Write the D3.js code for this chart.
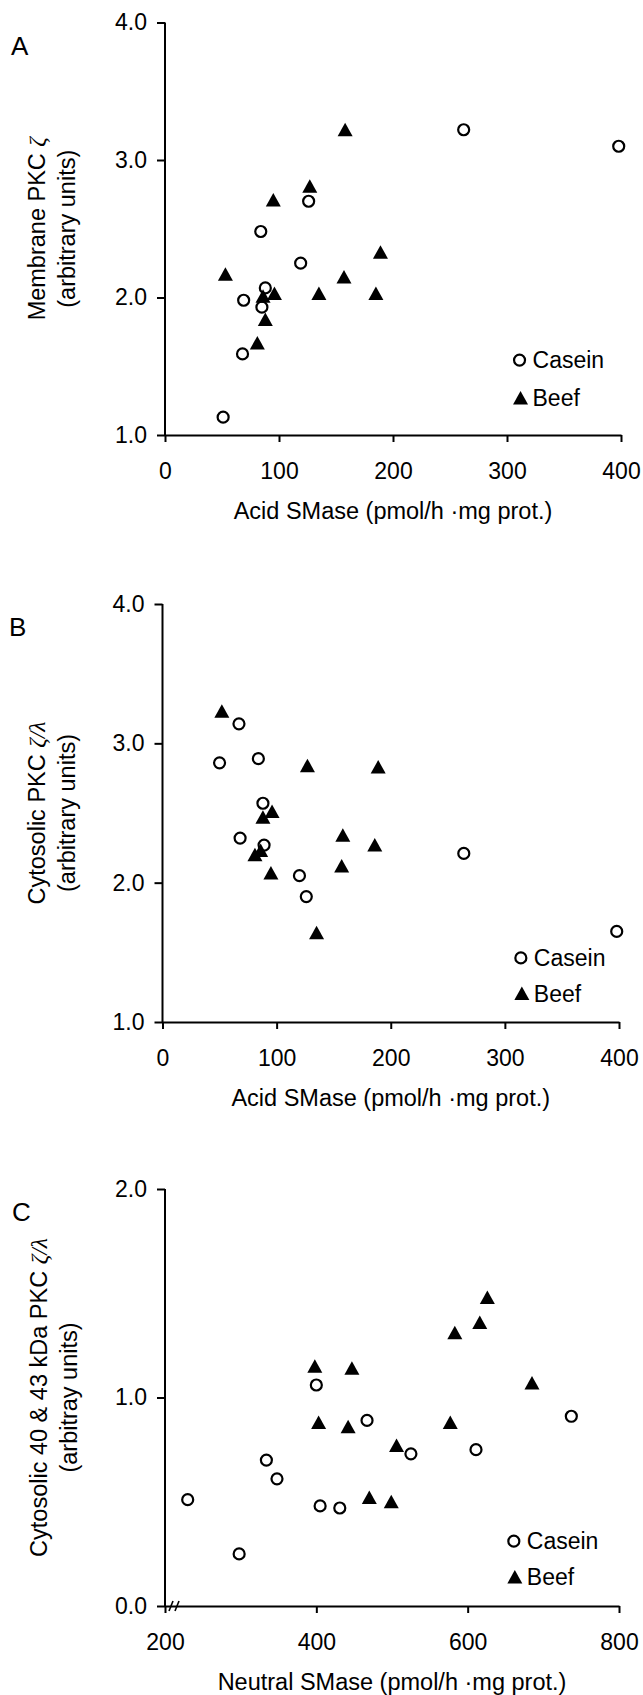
<!DOCTYPE html>
<html><head><meta charset="utf-8">
<script src="https://cdn.jsdelivr.net/npm/d3@7"></script>
<style>
body{margin:0;background:#fff}
svg{display:block}
text{font-family:"Liberation Sans",Arial,Helvetica,sans-serif;fill:#000}
.greek{font-family:"Liberation Serif","DejaVu Serif",serif;font-style:italic}
</style>
</head><body>
<svg id="chart" width="643" height="1695"></svg>
<script>
// ---------- DATA ----------
// Panel A: Acid SMase vs Membrane PKC zeta
const aCaseinX = [51, 68, 69, 85, 88, 84, 119, 126, 262, 398];
const aCaseinY = [1.13, 1.59, 1.98, 1.93, 2.07, 2.48, 2.25, 2.70, 3.22, 3.10];
const aBeefX = [53, 81, 88, 86, 96, 95, 127, 135, 158, 157, 185, 189];
const aBeefY = [2.17, 1.67, 1.84, 2.01, 2.03, 2.71, 2.81, 2.03, 3.22, 2.15, 2.03, 2.33];
// Panel B: Acid SMase vs Cytosolic PKC zeta/lambda
const bCaseinX = [50, 67, 84, 88, 68, 89, 120, 126, 264, 398];
const bCaseinY = [2.86, 3.14, 2.89, 2.57, 2.32, 2.27, 2.05, 1.90, 2.21, 1.65];
const bBeefX = [52, 127, 189, 88, 96, 158, 186, 81, 86, 95, 157, 135];
const bBeefY = [3.23, 2.84, 2.83, 2.47, 2.51, 2.34, 2.27, 2.20, 2.23, 2.07, 2.12, 1.64];
// Panel C: Neutral SMase vs Cytosolic 40 & 43 kDa PKC zeta/lambda
const cCaseinX = [230, 298, 334, 348, 400, 405, 431, 467, 525, 611, 737];
const cCaseinY = [0.51, 0.25, 0.70, 0.61, 1.06, 0.48, 0.47, 0.89, 0.73, 0.75, 0.91];
const cBeefX = [398, 447, 403, 442, 506, 470, 499, 577, 583, 616, 626, 685];
const cBeefY = [1.15, 1.14, 0.88, 0.86, 0.77, 0.52, 0.50, 0.88, 1.31, 1.36, 1.48, 1.07];

const acidTicks = [0, 100, 200, 300, 400];
const neutralTicks = [200, 400, 600, 800];
const pkcTicksAB = [1, 2, 3, 4];
const pkcTicksC = [0, 1, 2];
const seriesNames = ["Casein", "Beef"];

// ---------- DRAW ----------
const svg = d3.select("#chart");
const FS = 23;

function tri(g, cx, cy) {
  g.append("path")
    .attr("d", `M${cx},${cy - 7} L${cx + 7.5},${cy + 6.5} L${cx - 7.5},${cy + 6.5} Z`)
    .attr("fill", "#000");
}
function circ(g, cx, cy) {
  g.append("circle").attr("cx", cx).attr("cy", cy).attr("r", 5.5)
    .attr("fill", "#fff").attr("stroke", "#000").attr("stroke-width", 2.2);
}

function panel(o) {
  const g = svg.append("g");
  const x = d3.scaleLinear().domain(o.xDomain).range(o.xRange);
  const y = d3.scaleLinear().domain(o.yDomain).range(o.yRange);
  const y0 = o.yRange[0];
  const x0 = o.xRange[0];

  const xa = g.append("g").attr("transform", `translate(0,${y0})`)
    .call(d3.axisBottom(x).tickValues(o.xTicks).tickFormat(d3.format("d"))
      .tickSize(7).tickSizeOuter(0).tickPadding(21));
  const ya = g.append("g").attr("transform", `translate(${x0},0)`)
    .call(d3.axisLeft(y).tickValues(o.yTicks).tickFormat(d3.format(".1f"))
      .tickSize(8).tickSizeOuter(0).tickPadding(10));
  [xa, ya].forEach(a => {
    a.selectAll("path,line").attr("stroke", "#000").attr("stroke-width", 2);
    a.selectAll("text").attr("font-size", FS).attr("font-family", '"Liberation Sans",Arial,sans-serif').attr("fill", "#000");
  });
  ya.select(".domain").attr("d", `M0,${o.yRange[1]}V${y0 + 1}`);

  if (o.breakMarks) {
    [0, 6].forEach(dx => {
      g.append("line").attr("x1", x0 + 4 + dx).attr("y1", y0 + 5)
        .attr("x2", x0 + 8 + dx).attr("y2", y0 - 5)
        .attr("stroke", "#000").attr("stroke-width", 1.6);
    });
  }

  // points
  o.caseinX.forEach((v, i) => circ(g, x(v), y(o.caseinY[i])));
  o.beefX.forEach((v, i) => tri(g, x(v), y(o.beefY[i])));

  // legend
  const lx = x(o.legendX), lyC = y(o.legendYC), lyB = y(o.legendYB);
  circ(g, lx, lyC);
  tri(g, lx + 1, lyB);
  g.append("text").attr("x", lx + 13).attr("y", lyC + 8.3).attr("font-size", FS).text(seriesNames[0]);
  g.append("text").attr("x", lx + 13).attr("y", lyB + 8.3).attr("font-size", FS).text(seriesNames[1]);

  // x title
  g.append("text").attr("x", (o.xRange[0] + o.xRange[1]) / 2).attr("y", y0 + 84)
    .attr("text-anchor", "middle").attr("font-size", 23.5).text(o.xTitle);

  // y title (two lines)
  const cy = (o.yRange[0] + o.yRange[1]) / 2;
  const t1 = g.append("text").attr("transform", `translate(${o.yt1},${cy}) rotate(-90)`)
    .attr("text-anchor", "middle").attr("font-size", 23.5);
  t1.append("tspan").text(o.yTitle1);
  t1.append("tspan").attr("class", "greek").text(o.yGreek);
  g.append("text").attr("transform", `translate(${o.yt2},${cy}) rotate(-90)`)
    .attr("text-anchor", "middle").attr("font-size", 23.5).text(o.yTitle2);

  // panel letter
  g.append("text").attr("x", o.letterX).attr("y", o.yRange[1] + 32)
    .attr("font-size", 26).text(o.letter);
}

panel({
  letter: "A", letterX: 11,
  xDomain: [0, 400], xRange: [165, 621], yDomain: [1, 4], yRange: [435, 22.5],
  xTicks: acidTicks, yTicks: pkcTicksAB,
  caseinX: aCaseinX, caseinY: aCaseinY, beefX: aBeefX, beefY: aBeefY,
  legendX: 311, legendYC: 1.545, legendYB: 1.27,
  xTitle: "Acid SMase (pmol/h \u00b7mg prot.)",
  yTitle1: "Membrane PKC ", yGreek: "\u03b6", yTitle2: "(arbitrary units)", yt1: 45, yt2: 75
});
panel({
  letter: "B", letterX: 9,
  xDomain: [0, 400], xRange: [162.5, 619], yDomain: [1, 4], yRange: [1022, 604],
  xTicks: acidTicks, yTicks: pkcTicksAB,
  caseinX: bCaseinX, caseinY: bCaseinY, beefX: bBeefX, beefY: bBeefY,
  legendX: 314, legendYC: 1.46, legendYB: 1.204,
  xTitle: "Acid SMase (pmol/h \u00b7mg prot.)",
  yTitle1: "Cytosolic PKC ", yGreek: "\u03b6/\u03bb", yTitle2: "(arbitrary units)", yt1: 45, yt2: 75
});
panel({
  letter: "C", letterX: 12,
  xDomain: [200, 800], xRange: [165, 619], yDomain: [0, 2], yRange: [1606, 1189],
  xTicks: neutralTicks, yTicks: pkcTicksC, breakMarks: true,
  caseinX: cCaseinX, caseinY: cCaseinY, beefX: cBeefX, beefY: cBeefY,
  legendX: 661, legendYC: 0.311, legendYB: 0.139,
  xTitle: "Neutral SMase (pmol/h \u00b7mg prot.)",
  yTitle1: "Cytosolic 40 & 43 kDa PKC ", yGreek: "\u03b6/\u03bb", yTitle2: "(arbitray units)", yt1: 47, yt2: 77
});
</script>
</body></html>
